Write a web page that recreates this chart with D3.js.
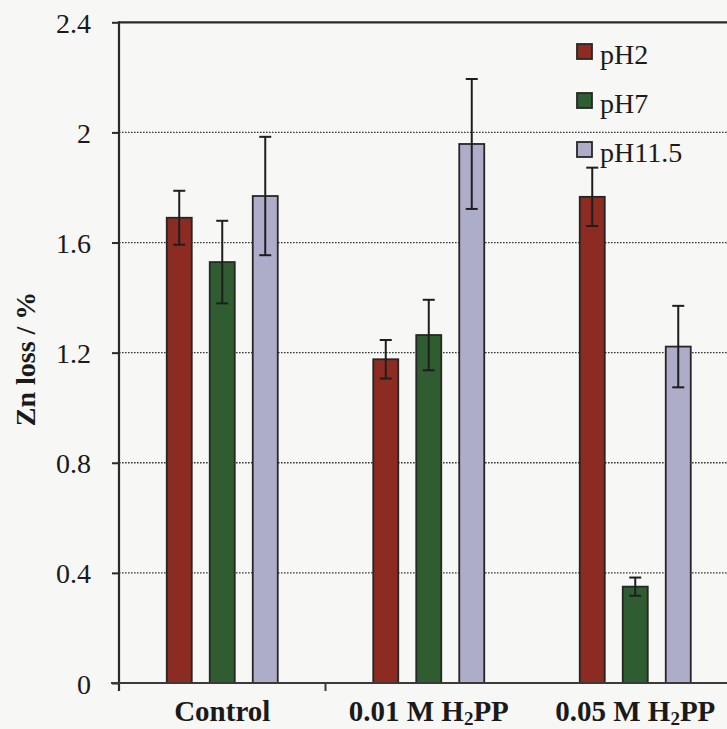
<!DOCTYPE html>
<html>
<head>
<meta charset="utf-8">
<script src="https://cdn.jsdelivr.net/npm/d3@7"></script>
<style>
  html, body { margin: 0; padding: 0; background: #f7f7f5; }
  svg { display: block; }
  text { font-family: "Liberation Serif", "Times New Roman", serif; fill: #1a1a1a; }
</style>
</head>
<body>
<script>
// Zn loss (%) for each treatment at three pH values, with error bars
const categories = ["Control", "0.01 M H2PP", "0.05 M H2PP"];
const series = ["pH2", "pH7", "pH11.5"];
const pH2 = [1.69, 1.176, 1.766];
const pH7 = [1.529, 1.264, 0.35];
const pH11_5 = [1.769, 1.958, 1.222];
const err_pH2 = [0.098, 0.07, 0.106];
const err_pH7 = [0.15, 0.128, 0.033];
const err_pH11_5 = [0.215, 0.236, 0.148];
const yTicks = [0, 0.4, 0.8, 1.2, 1.6, 2, 2.4];
const colors = ["#8b2b21", "#2f5c31", "#aeadc9"];

const values = [pH2, pH7, pH11_5];
const errors = [err_pH2, err_pH7, err_pH11_5];

const W = 727, H = 729;
const svg = d3.select("body").append("svg").attr("width", W).attr("height", H);
svg.append("rect").attr("width", W).attr("height", H).attr("fill", "#f7f7f5");

const plotLeft = 119, plotBottom = 683, plotTop = 22.3, band = 206.5;
const x0 = d3.scaleBand().domain(categories).range([plotLeft, plotLeft + band * categories.length]).padding(0);
const x1 = d3.scalePoint().domain(series).range([-43, 43]);
const y = d3.scaleLinear().domain([0, 2.4]).range([plotBottom, plotTop]);
const barW = 25;

// dotted grid lines
svg.append("g").selectAll("line")
  .data(yTicks.filter(t => t > 0 && t < 2.4))
  .join("line")
  .attr("x1", plotLeft).attr("x2", W)
  .attr("y1", d => y(d)).attr("y2", d => y(d))
  .attr("stroke", "#3a3a3a").attr("stroke-width", 1.3)
  .attr("stroke-dasharray", "1.6,1.4");

// solid top frame line
svg.append("line")
  .attr("x1", plotLeft).attr("x2", W)
  .attr("y1", y(2.4)).attr("y2", y(2.4))
  .attr("stroke", "#2a2a2a").attr("stroke-width", 2.2);

// bars
const rows = [];
categories.forEach((c, i) => series.forEach((s, j) => {
  rows.push({ c, s, j, v: values[j][i], e: errors[j][i] });
}));
const cx = d => x0(d.c) + x0.bandwidth() / 2 + x1(d.s);

svg.append("g").selectAll("rect")
  .data(rows)
  .join("rect")
  .attr("x", d => cx(d) - barW / 2)
  .attr("y", d => y(d.v))
  .attr("width", barW)
  .attr("height", d => y(0) - y(d.v))
  .attr("fill", d => colors[d.j])
  .attr("stroke", "#262626").attr("stroke-width", 1.8);

// error bars
const eb = svg.append("g").attr("stroke", "#1e1e1e").attr("stroke-width", 2);
eb.selectAll("line.v").data(rows).join("line").attr("class", "v")
  .attr("x1", cx).attr("x2", cx)
  .attr("y1", d => y(d.v + d.e)).attr("y2", d => y(d.v - d.e));
eb.selectAll("line.t").data(rows).join("line").attr("class", "t")
  .attr("x1", d => cx(d) - 6).attr("x2", d => cx(d) + 6)
  .attr("y1", d => y(d.v + d.e)).attr("y2", d => y(d.v + d.e));
eb.selectAll("line.b").data(rows).join("line").attr("class", "b")
  .attr("x1", d => cx(d) - 6).attr("x2", d => cx(d) + 6)
  .attr("y1", d => y(d.v - d.e)).attr("y2", d => y(d.v - d.e));

// y axis
const yAxis = svg.append("g").attr("transform", `translate(${plotLeft},0)`)
  .call(d3.axisLeft(y).tickValues(yTicks).tickSize(7).tickPadding(21)
    .tickFormat(d => d3.format("")(+d.toFixed(1))));
yAxis.select(".domain").remove();
yAxis.selectAll(".tick line").attr("stroke", "#2a2a2a").attr("stroke-width", 2);
yAxis.selectAll(".tick text")
  .style("font-family", "'Liberation Serif', 'Times New Roman', serif")
  .style("font-size", "28px").attr("fill", "#1a1a1a").attr("dy", "0.36em");
svg.append("line")
  .attr("x1", plotLeft).attr("x2", plotLeft)
  .attr("y1", plotTop - 1).attr("y2", plotBottom + 8)
  .attr("stroke", "#2a2a2a").attr("stroke-width", 2.2);

// x axis baseline and group divider tick
svg.append("line")
  .attr("x1", plotLeft - 8).attr("x2", W)
  .attr("y1", plotBottom).attr("y2", plotBottom)
  .attr("stroke", "#3a3a3a").attr("stroke-width", 2);
svg.append("line")
  .attr("x1", x0(categories[1])).attr("x2", x0(categories[1]))
  .attr("y1", plotBottom).attr("y2", plotBottom + 8)
  .attr("stroke", "#3a3a3a").attr("stroke-width", 2);

// category labels
const labels = svg.append("g");
categories.forEach(c => {
  const t = labels.append("text")
    .attr("x", x0(c) + x0.bandwidth() / 2)
    .attr("y", 721)
    .attr("text-anchor", "middle")
    .attr("font-weight", "bold")
    .attr("font-size", 29);
  const m = c.match(/^(.*H)2(PP)$/);
  if (m) {
    t.append("tspan").text(m[1]);
    t.append("tspan").text("2").attr("font-size", 19).attr("dy", 4);
    t.append("tspan").text(m[2]).attr("dy", -4);
  } else {
    t.text(c);
  }
});

// y axis title
svg.append("text")
  .attr("transform", "translate(35,359) rotate(-90)")
  .attr("text-anchor", "middle")
  .attr("font-weight", "bold")
  .attr("font-size", 28)
  .text("Zn loss / %");

// legend
const legend = svg.append("g");
series.forEach((s, j) => {
  const g = legend.append("g").attr("transform", `translate(577,${44 + j * 49})`);
  g.append("rect").attr("width", 15).attr("height", 15)
    .attr("fill", colors[j]).attr("stroke", "#262626").attr("stroke-width", 1.8);
  g.append("text").attr("x", 23).attr("y", 20)
    .attr("font-size", 28)
    .text(s);
});
</script>
</body>
</html>
